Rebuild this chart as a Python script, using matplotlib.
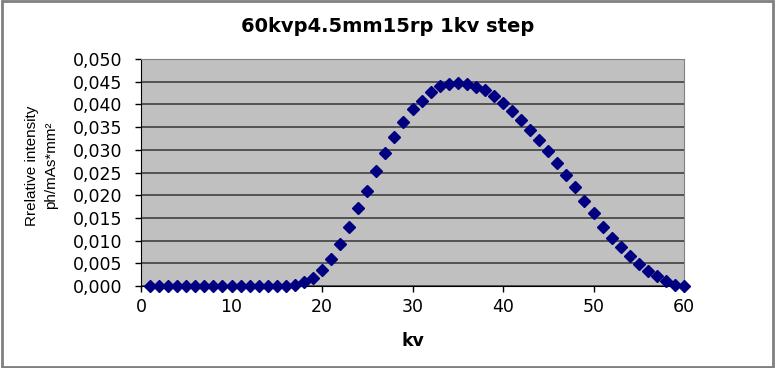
import matplotlib.pyplot as plt
from matplotlib.patches import Rectangle
from matplotlib.ticker import FuncFormatter, MultipleLocator

plt.rcParams['font.family'] = ['DejaVu Sans']

kv = list(range(1, 61))
intensity = [0.0] * 16 + [
    0.0002, 0.0008, 0.0018, 0.0035, 0.0059, 0.0093, 0.0130, 0.0171, 0.0210, 0.0253,
    0.0293, 0.0329, 0.0362, 0.0389, 0.0408, 0.0427, 0.0440, 0.0446, 0.0447, 0.0446,
    0.0439, 0.0432, 0.0419, 0.0404, 0.0386, 0.0366, 0.0344, 0.0322, 0.0298, 0.0272,
    0.0244, 0.0217, 0.0188, 0.0160, 0.0131, 0.0106, 0.0085, 0.0065, 0.0049, 0.0034,
    0.0021, 0.0011, 0.0003, 0.0000,
]

fig = plt.figure(figsize=(7.75, 3.68), dpi=100)
ax = fig.add_axes([0.182, 0.2228, 0.7006, 0.6169])
ax.set_facecolor('#c0c0c0')

ax.plot(kv, intensity, linestyle='none', marker='D', markersize=5.8,
        color='#000080', clip_on=False, zorder=3)

ax.set_xlim(0, 60)
ax.set_ylim(0, 0.05)
ax.xaxis.set_major_locator(MultipleLocator(10))
ax.yaxis.set_major_locator(MultipleLocator(0.005))
ax.yaxis.set_major_formatter(FuncFormatter(lambda v, p: f"{v:.3f}".replace('.', ',')))
ax.grid(axis='y', color='#404040', linewidth=1.2)
ax.set_axisbelow(True)

for side in ['top', 'right']:
    ax.spines[side].set_color('#808080')
for side in ['left', 'bottom']:
    ax.spines[side].set_color('black')
ax.tick_params(direction='out', length=4.5, width=1, labelsize=12.5, colors='black')
ax.tick_params(axis='y', pad=9)
ax.tick_params(axis='x', pad=4)

fig.text(0.5, 0.927, "60kvp4.5mm15rp 1kv step", fontsize=14, fontweight='bold',
         ha='center', va='center')
ax.set_xlabel("kv", fontsize=12.5, fontweight='bold', labelpad=12)
ax.set_ylabel("Rrelative intensity\nph/mAs*mm²", fontsize=11, linespacing=1.45,
              family=['Liberation Sans', 'DejaVu Sans'])
ax.yaxis.set_label_coords(-0.153, 0.53)

fig.patches.append(Rectangle((0.002, 0.003), 0.995, 0.993, transform=fig.transFigure,
                             fill=False, edgecolor='#808080', linewidth=2))

fig.savefig("out.png", dpi=100)
